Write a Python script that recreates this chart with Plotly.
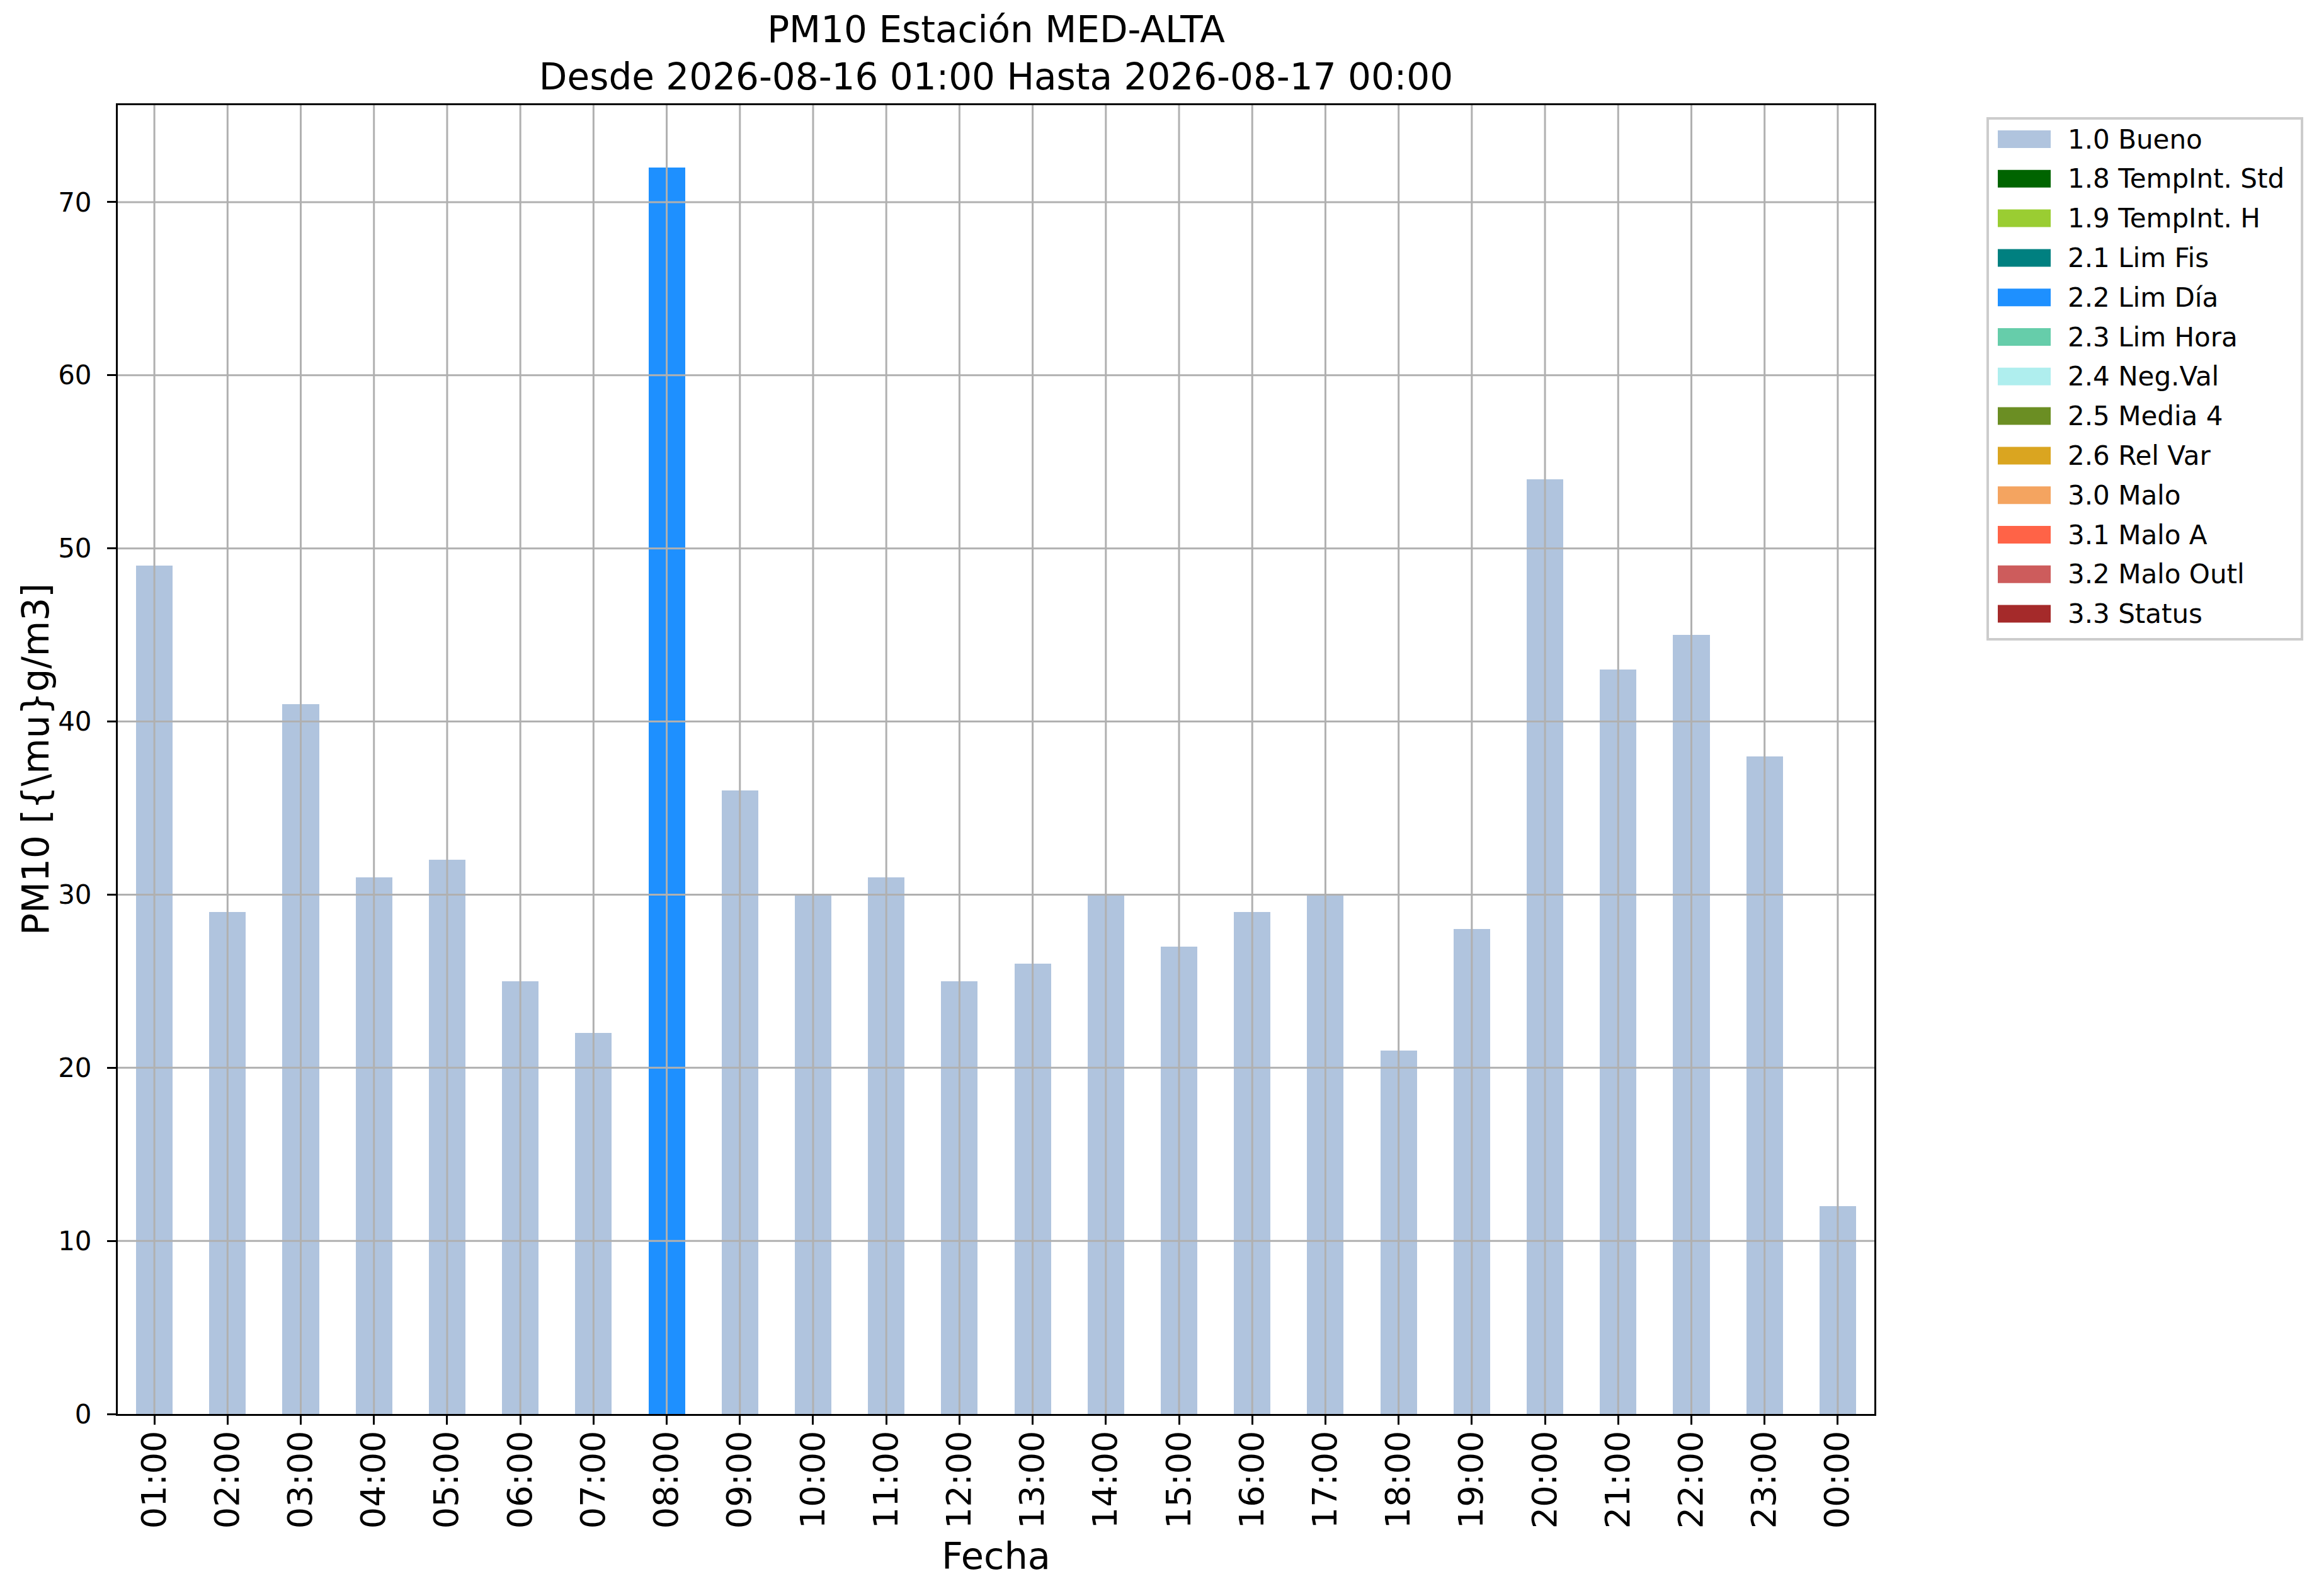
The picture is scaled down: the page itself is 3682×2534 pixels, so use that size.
import plotly.graph_objects as go

# ---- data ----
hours = ["01:00", "02:00", "03:00", "04:00", "05:00", "06:00", "07:00", "08:00",
         "09:00", "10:00", "11:00", "12:00", "13:00", "14:00", "15:00", "16:00",
         "17:00", "18:00", "19:00", "20:00", "21:00", "22:00", "23:00", "00:00"]
pm10 = [49, 29, 41, 31, 32, 25, 22, 72, 36, 30, 31, 25, 26, 30, 27, 29, 30, 21,
        28, 54, 43, 45, 38, 12]
flags = ["1.0 Bueno"] * 7 + ["2.2 Lim Día"] + ["1.0 Bueno"] * 16

classes = ["1.0 Bueno", "1.8 TempInt. Std", "1.9 TempInt. H", "2.1 Lim Fis",
           "2.2 Lim Día", "2.3 Lim Hora", "2.4 Neg.Val", "2.5 Media 4",
           "2.6 Rel Var", "3.0 Malo", "3.1 Malo A", "3.2 Malo Outl", "3.3 Status"]
class_colors = ["#B0C4DE", "#006400", "#9ACD32", "#008080", "#1E90FF", "#66CDAA",
                "#AFEEEE", "#6B8E23", "#DAA520", "#F4A460", "#FF6347", "#CD5C5C",
                "#A52A2A"]
ytick_vals = [0, 10, 20, 30, 40, 50, 60, 70]

# ---- layout geometry (pixels) ----
W, H = 3682, 2534
ML, MR, MT, MB = 187, 706, 167, 289
PW, PH = W - ML - MR, H - MT - MB
FONT = "DejaVu Sans"
GRID = "#b0b0b0"


def px_x(x):
    return (x - ML) / PW


def px_y(y):
    return (H - MB - y) / PH


fig = go.Figure()
for cls, col in zip(classes, class_colors):
    yv = [v if f == cls else None for v, f in zip(pm10, flags)]
    fig.add_trace(go.Bar(x=hours, y=yv, name=cls, marker=dict(color=col, line=dict(width=0)),
                         width=0.5, showlegend=False))

ymax = max(pm10) * 1.05

shapes = []
# gridlines drawn above bars (as in matplotlib)
for v in ytick_vals[1:]:
    shapes.append(dict(type="line", xref="paper", yref="y", x0=0, x1=1, y0=v, y1=v,
                       line=dict(color=GRID, width=3), layer="above"))
for hcat in hours:
    shapes.append(dict(type="line", xref="x", yref="paper", x0=hcat, x1=hcat, y0=0, y1=1,
                       line=dict(color=GRID, width=3), layer="above"))

# legend (matplotlib style)
annotations = []
row0, rowstep = 221, 62.8
shapes.append(dict(type="rect", xref="paper", yref="paper",
                   x0=px_x(3156), x1=px_x(3655), y0=px_y(188), y1=px_y(1015),
                   line=dict(color="#cccccc", width=4), fillcolor="rgba(255,255,255,0.8)"))
for i, (cls, col) in enumerate(zip(classes, class_colors)):
    yc = row0 + rowstep * i
    shapes.append(dict(type="rect", xref="paper", yref="paper",
                       x0=px_x(3172), x1=px_x(3256), y0=px_y(yc + 14), y1=px_y(yc - 14),
                       line=dict(width=0), fillcolor=col))
    annotations.append(dict(text=cls, xref="paper", yref="paper", x=px_x(3281), y=px_y(yc),
                            xanchor="left", yanchor="middle", showarrow=False,
                            font=dict(family=FONT, size=42, color="black")))

# y axis title
annotations.append(dict(text="PM10 [{\\mu}g/m3]", xref="paper", yref="paper",
                        x=px_x(57), y=0.5, xanchor="center", yanchor="middle",
                        textangle=-90, showarrow=False,
                        font=dict(family=FONT, size=58, color="black")))

fig.update_layout(
    width=W, height=H,
    margin=dict(l=ML, r=MR, t=MT, b=MB, autoexpand=False),
    paper_bgcolor="white", plot_bgcolor="white",
    barmode="stack", bargap=0,
    font=dict(family=FONT, color="black"),
    title=dict(text="PM10 Estación MED-ALTA<br>Desde 2026-08-16 01:00 Hasta 2026-08-17 00:00",
               x=0.5, xref="paper", xanchor="center",
               y=1 - 67 / H, yref="container", yanchor="middle",
               font=dict(family=FONT, size=58, color="black")),
    xaxis=dict(type="category", categoryorder="array", categoryarray=hours,
               range=[-0.5, len(hours) - 0.5],
               showgrid=False, zeroline=False,
               showline=True, mirror=True, linecolor="black", linewidth=3,
               ticks="outside", ticklen=14, tickwidth=3, tickcolor="black",
               tickangle=-90, tickfont=dict(family=FONT, size=54, color="black"),
               ticklabelstandoff=-12,
               title=dict(text="Fecha", font=dict(family=FONT, size=59, color="black"),
                          standoff=24)),
    yaxis=dict(range=[0, ymax], tickvals=ytick_vals,
               showgrid=False, zeroline=False,
               showline=True, mirror=True, linecolor="black", linewidth=3,
               ticks="outside", ticklen=14, tickwidth=3, tickcolor="black",
               tickfont=dict(family=FONT, size=42, color="black"),
               ticklabelstandoff=16),
    shapes=shapes,
    annotations=annotations,
    showlegend=False,
)

fig.write_html("out.html", post_script="document.body.style.margin='0px';",
               config={"displayModeBar": False})
